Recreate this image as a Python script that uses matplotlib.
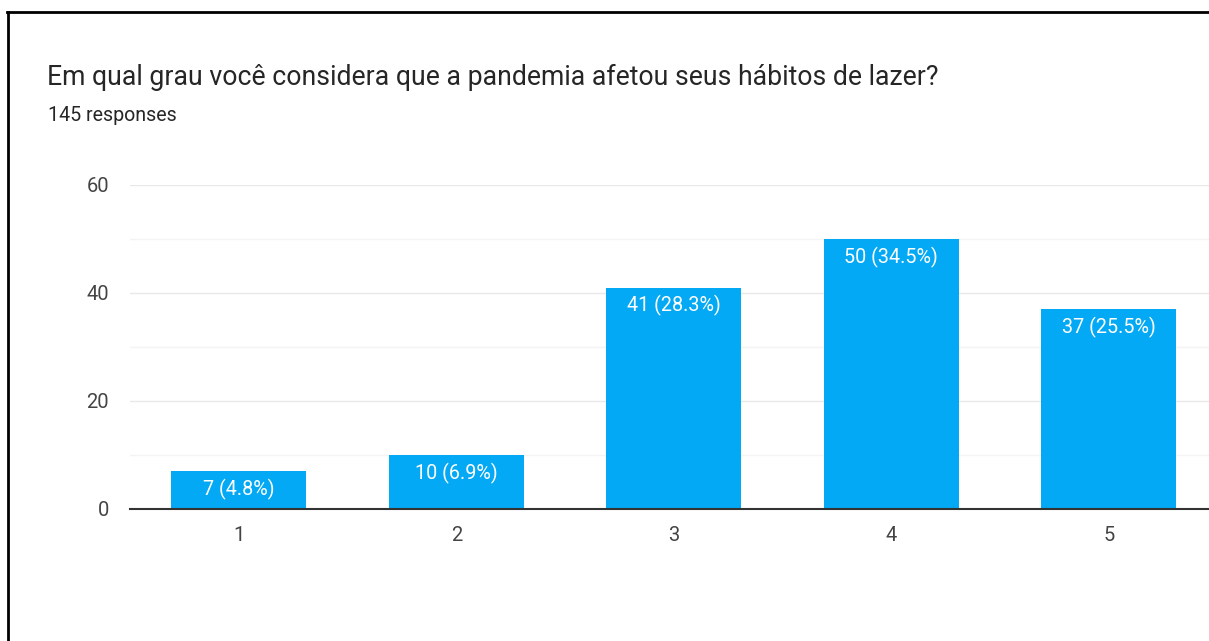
import matplotlib
matplotlib.use("Agg")
import matplotlib.pyplot as plt
from matplotlib.lines import Line2D
from matplotlib.ticker import MultipleLocator

plt.rcParams['font.family'] = ['Roboto', 'DejaVu Sans']

title = "Em qual grau você considera que a pandemia afetou seus hábitos de lazer?"
subtitle = "145 responses"
categories = ["1", "2", "3", "4", "5"]
counts = [7, 10, 41, 50, 37]
percents = ["4.8%", "6.9%", "28.3%", "34.5%", "25.5%"]
yticks = [0, 20, 40, 60]

W, H = 1209, 641
fig = plt.figure(figsize=(W / 100, H / 100), dpi=100)
fig.patch.set_facecolor('white')

left_px, right_px = 130, 1209
y0_px, ytop_px = 509, 185
ax = fig.add_axes([left_px / W, (H - y0_px) / H, (right_px - left_px) / W, (y0_px - ytop_px) / H])

x = list(range(1, len(categories) + 1))
bars = ax.bar(x, counts, width=0.62, color='#03a9f4', zorder=3)

for b, c, p in zip(bars, counts, percents):
    ax.annotate(f"{c} ({p})", (b.get_x() + b.get_width() / 2, b.get_height()),
                xytext=(0, -5.5), textcoords='offset points', ha='center', va='top',
                color='white', fontsize=14.2, zorder=4)

ax.set_xlim(0.5, 0.5 + (right_px - left_px) / 217.5)
ax.set_ylim(0, 60)
ax.set_xticks(x)
ax.set_xticklabels(categories)
ax.set_yticks(yticks)
ax.yaxis.set_minor_locator(MultipleLocator(10))
ax.grid(axis='y', which='major', color='#e8e8e8', lw=1, zorder=0)
ax.grid(axis='y', which='minor', color='#f4f4f4', lw=1, zorder=0)
ax.tick_params(axis='both', which='both', length=0, labelsize=14.5, labelcolor='#444444')
ax.tick_params(axis='y', pad=15)
ax.tick_params(axis='x', pad=12)
for s in ['top', 'right', 'left']:
    ax.spines[s].set_visible(False)
ax.spines['bottom'].set_color('#333333')
ax.spines['bottom'].set_linewidth(1.5)
ax.spines['bottom'].set_zorder(5)

fig.text(47 / W, 1 - 85 / H, title, fontsize=19.2, color='#262626', va='baseline', ha='left')
fig.text(48 / W, 1 - 121 / H, subtitle, fontsize=14.1, color='#262626', va='baseline', ha='left')

# frame lines (screenshot border)
fig.add_artist(Line2D([7 / W, 1.0], [1 - 12 / H, 1 - 12 / H], transform=fig.transFigure, color='black', lw=2))
fig.add_artist(Line2D([8 / W, 8 / W], [1 - 12 / H, 0], transform=fig.transFigure, color='black', lw=2))

fig.savefig('out.png', dpi=100, facecolor='white')
